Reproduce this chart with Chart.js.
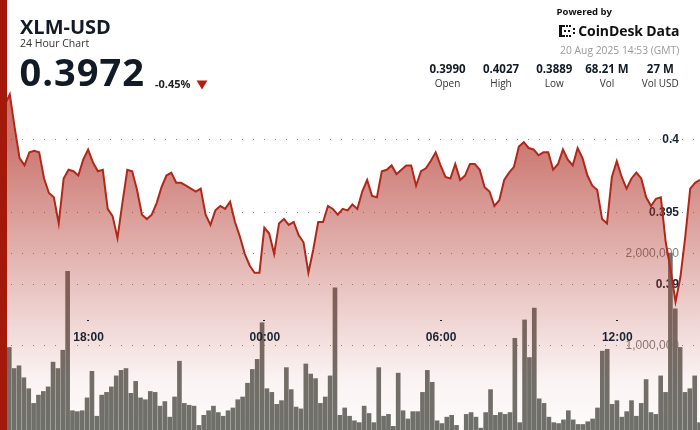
<!DOCTYPE html>
<html><head><meta charset="utf-8">
<script src="https://cdn.jsdelivr.net/npm/chart.js@4.4.1/dist/chart.umd.min.js"></script>
<style>
html,body{margin:0;padding:0;background:#fff;width:700px;height:430px;overflow:hidden;}
#wrap{position:relative;width:700px;height:430px;overflow:hidden;}
#c{position:absolute;left:0;top:0;}
#leftbar{position:absolute;left:0;top:0;width:7px;height:430px;background:#a3190c;}
.t{position:absolute;white-space:nowrap;line-height:1;font-family:'Open Sans',sans-serif;color:#111a26;}
#title{left:20px;top:16.5px;font-size:20px;font-weight:700;}
#sub{left:20px;top:38.4px;font-size:10.5px;color:#333;}
#price{left:19.5px;top:52.3px;font-size:38px;font-weight:700;letter-spacing:1px;}
#chg{left:155px;top:77.5px;font-size:11px;font-weight:700;color:#222;}
#tri{position:absolute;left:196px;top:80px;}
#pow{right:88px;top:6.6px;font-size:9.5px;font-weight:700;color:#111;}
#logo{right:20.7px;top:23.6px;font-size:14px;font-weight:700;letter-spacing:-0.1px;color:#111;}
#icon{position:absolute;left:559px;top:25px;}
#date{right:20.7px;top:45.2px;font-size:10.3px;color:#9a9a9a;}
.sv{top:63.1px;font-size:11.5px;font-weight:700;transform:translateX(-50%);}
.sl{top:77.8px;font-size:10px;color:#333;transform:translateX(-50%);}
</style></head>
<body>
<div id="wrap">
<canvas id="c" width="700" height="430"></canvas>
<div id="leftbar"></div>
<div class="t" id="title">XLM-USD</div>
<div class="t" id="sub">24 Hour Chart</div>
<div class="t" id="price">0.3972</div>
<div class="t" id="chg">-0.45%</div>
<svg id="tri" width="12" height="10"><polygon points="0.5,0.5 11.5,0.5 6,9.5" fill="#b3200f"/></svg>
<div class="t" id="pow">Powered by</div>
<svg id="icon" width="17" height="12" viewBox="0 0 17 12">
<rect x="0" y="0" width="3" height="12" fill="#111"/>
<rect x="3" y="0" width="3" height="2" fill="#111"/><rect x="7" y="0" width="2" height="2" fill="#111"/><rect x="10" y="0" width="2" height="2" fill="#111"/>
<rect x="3" y="10" width="3" height="2" fill="#111"/><rect x="7" y="10" width="2" height="2" fill="#111"/><rect x="10" y="10" width="2" height="2" fill="#111"/>
<rect x="5" y="5" width="2" height="2" fill="#111"/><rect x="9" y="5" width="2" height="2" fill="#111"/>
<rect x="14" y="3" width="2" height="2" fill="#111"/><rect x="14" y="7" width="2" height="2" fill="#111"/>
</svg>
<div class="t" id="logo">CoinDesk Data</div>
<div class="t" id="date">20 Aug 2025 14:53 (GMT)</div>
<div class="t sv" style="left:447.5px">0.3990</div>
<div class="t sl" style="left:447.5px">Open</div>
<div class="t sv" style="left:501px">0.4027</div>
<div class="t sl" style="left:501px">High</div>
<div class="t sv" style="left:554.3px">0.3889</div>
<div class="t sl" style="left:554.3px">Low</div>
<div class="t sv" style="left:607px">68.21 M</div>
<div class="t sl" style="left:607px">Vol</div>
<div class="t sv" style="left:660.3px">27 M</div>
<div class="t sl" style="left:660.3px">Vol USD</div>
</div>
<script>
// categories: 10-minute steps from 15:00 (19 Aug) to 14:50 (20 Aug)
const categories = [];
for (let k = 0; k < 144; k++) {
  const m = (15 * 60 + k * 10) % 1440;
  categories.push(String(Math.floor(m / 60)).padStart(2, '0') + ':' + String(m % 60).padStart(2, '0'));
}
const priceValues = [
0.4019,0.4024,0.4031,0.4008,0.3987,0.3982,0.3991,0.3992,0.3991,0.3973,
0.3963,0.3960,0.3942,0.3973,0.3979,0.3978,0.3975,0.3986,0.3993,0.3984,
0.3978,0.3979,0.3952,0.3947,0.3932,0.3956,0.3979,0.3978,0.3965,0.3948,
0.3945,0.3948,0.3956,0.3967,0.3975,0.3977,0.3970,0.3970,0.3968,0.3966,
0.3964,0.3966,0.3948,0.3941,0.3951,0.3954,0.3952,0.3957,0.3943,0.3933,
0.3921,0.3913,0.3908,0.3908,0.3939,0.3935,0.3921,0.3942,0.3945,0.3941,
0.3943,0.3934,0.3929,0.3908,0.3924,0.3943,0.3943,0.3954,0.3952,0.3948,
0.3952,0.3951,0.3955,0.3952,0.3964,0.3972,0.3961,0.3960,0.3978,0.3979,
0.3982,0.3976,0.3979,0.3982,0.3982,0.3968,0.3978,0.3980,0.3985,0.3991,
0.3982,0.3974,0.3973,0.3983,0.3972,0.3975,0.3983,0.3983,0.3979,0.3967,
0.3964,0.3954,0.3958,0.3972,0.3977,0.3981,0.3995,0.3998,0.3994,0.3993,
0.3989,0.3991,0.3991,0.3979,0.3983,0.3993,0.3986,0.3982,0.3994,0.3987,
0.3975,0.3968,0.3965,0.3945,0.3942,0.3974,0.3985,0.3974,0.3966,0.3973,
0.3977,0.3973,0.3960,0.3954,0.3959,0.3960,0.3929,0.3910,0.3888,0.3905,
0.3933,0.3966,0.3970,0.3972
];
const volumeValues = [
800000,970000,740000,770000,640000,520000,360000,450000,490000,540000,
810000,740000,940000,1800000,280000,270000,280000,420000,710000,220000,
450000,480000,540000,660000,720000,740000,470000,600000,420000,400000,
490000,480000,330000,380000,210000,430000,820000,360000,340000,330000,
120000,230000,280000,330000,260000,220000,280000,310000,400000,430000,
580000,730000,840000,1240000,520000,480000,350000,390000,750000,510000,
320000,300000,790000,680000,630000,360000,430000,660000,1620000,230000,
310000,220000,170000,150000,330000,250000,150000,750000,220000,240000,
110000,690000,280000,190000,270000,270000,480000,720000,590000,170000,
140000,210000,230000,120000,50000,240000,260000,210000,90000,260000,
510000,230000,260000,240000,260000,1070000,150000,1270000,860000,1400000,
410000,360000,210000,150000,140000,180000,280000,180000,130000,130000,
160000,190000,310000,930000,950000,350000,390000,210000,270000,390000,
220000,360000,620000,260000,240000,660000,480000,2000000,1390000,970000,
480000,520000,660000,150000
];
const priceTicks = [0.39, 0.395, 0.4];
const volumeTicks = [1000000, 2000000];
const timeTickLabels = ['18:00', '00:00', '06:00', '12:00'];

const NARROW = '"Liberation Sans Narrow", "Arial Narrow", "Liberation Sans", sans-serif';

const overlay = {
  id: 'overlay',
  beforeDatasetsDraw(chart) {
    const ctx = chart.ctx, a = chart.chartArea;
    const yP = chart.scales.yPrice, yV = chart.scales.yVol;
    ctx.save();
    ctx.strokeStyle = '#8e8e8e';
    ctx.lineWidth = 1;
    ctx.setLineDash([1, 10]);
    const grid = (y) => { const yy = Math.round(y) + 0.5; ctx.beginPath(); ctx.moveTo(a.left, yy); ctx.lineTo(a.right, yy); ctx.stroke(); };
    priceTicks.forEach(v => grid(yP.getPixelForValue(v)));
    volumeTicks.forEach(v => grid(yV.getPixelForValue(v)));
    ctx.setLineDash([]);
    ctx.textAlign = 'right';
    ctx.textBaseline = 'middle';
    ctx.font = '12px ' + NARROW;
    ctx.fillStyle = '#858080';
    volumeTicks.forEach(v => ctx.fillText(v.toLocaleString('en-US'), a.right - 21, yV.getPixelForValue(v) + 0.5));
    ctx.font = 'bold 12px ' + NARROW;
    ctx.fillStyle = '#1b2331';
    priceTicks.forEach(v => ctx.fillText(String(v), a.right - 21, yP.getPixelForValue(v) + 0.5));
    ctx.restore();
  },
  afterDatasetsDraw(chart) {
    const ctx = chart.ctx, x = chart.scales.x;
    ctx.save();
    ctx.font = 'bold 12px ' + NARROW;
    ctx.fillStyle = '#1b2331';
    ctx.textAlign = 'center';
    ctx.textBaseline = 'alphabetic';
    timeTickLabels.forEach(lbl => {
      const px = x.getPixelForValue(categories.indexOf(lbl));
      ctx.fillText(lbl, px + 0.5, 341.3);
      ctx.fillRect(Math.round(px) - 1, 320, 2, 1);
    });
    ctx.restore();
  }
};

new Chart(document.getElementById('c'), {
  type: 'bar',
  data: {
    labels: categories,
    datasets: [
      {
        type: 'line', data: priceValues, xAxisID: 'x', yAxisID: 'yPrice',
        borderColor: '#b1281b', borderWidth: 2, pointRadius: 0, tension: 0,
        fill: 'start', order: 1,
        backgroundColor: (c) => {
          const { ctx, chartArea } = c.chart;
          if (!chartArea) return 'rgba(0,0,0,0)';
          const g = ctx.createLinearGradient(0, chartArea.top, 0, chartArea.bottom);
          g.addColorStop(0, 'rgba(176,46,36,0.72)');
          g.addColorStop(0.33, 'rgba(176,46,36,0.65)');
          g.addColorStop(0.63, 'rgba(176,46,36,0.32)');
          g.addColorStop(0.88, 'rgba(176,46,36,0.06)');
          g.addColorStop(1, 'rgba(176,46,36,0.015)');
          return g;
        }
      },
      {
        type: 'bar', data: volumeValues, xAxisID: 'x2', yAxisID: 'yVol',
        backgroundColor: '#6e716b', barThickness: 4, order: 2
      }
    ]
  },
  options: {
    responsive: false, animation: false, devicePixelRatio: 1,
    layout: { padding: 0 },
    plugins: { legend: { display: false }, tooltip: { enabled: false } },
    scales: {
      x: { type: 'category', display: false, offset: false },
      x2: { type: 'category', display: false, offset: true },
      yPrice: { type: 'linear', display: false, min: 0.379952, max: 0.409607 },
      yVol: { type: 'linear', display: false, min: 69800, max: 4759000 }
    }
  },
  plugins: [overlay]
});
</script>
</body></html>
